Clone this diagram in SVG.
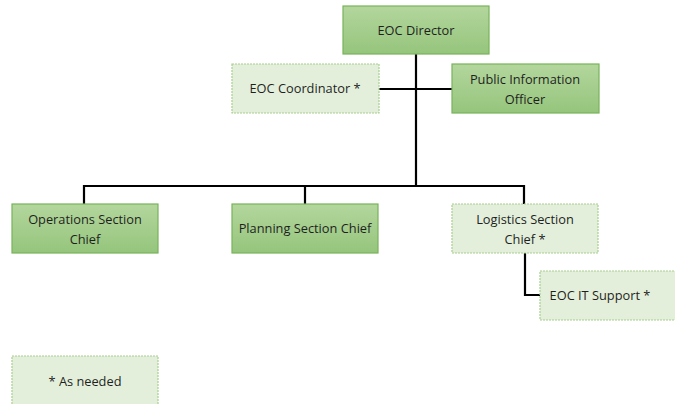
<svg xmlns="http://www.w3.org/2000/svg" width="675" height="404" viewBox="0 0 675 404">
<defs>
<linearGradient id="g" x1="0" y1="0" x2="0" y2="1">
<stop offset="0" stop-color="#b3d69d"/>
<stop offset="1" stop-color="#95c57c"/>
</linearGradient>
<style>
.dark{fill:url(#g);stroke:#78b35a;stroke-width:1.2}
.light{fill:#e3efda;stroke:#a8d08f;stroke-width:1.2;stroke-dasharray:2 1}
text{font-family:"Open Sans","Liberation Sans",sans-serif;font-size:12.8px;fill:#1f1f1f;text-anchor:middle}
.c{fill:none;stroke:#000;stroke-width:2.2}
</style>
</defs>
<rect width="675" height="404" fill="#fff"/>
<g id="connectors">
<path class="c" d="M416,54V186M379,89H452M84,204V186H524V204M305,186V204M525,253V295H540"/>
</g>
<g id="director"><rect class="dark" x="343" y="6" width="146" height="48"/><text x="416" y="35">EOC Director</text></g>
<g id="coordinator"><rect class="light" x="232" y="64" width="147" height="49"/><text x="305" y="93">EOC Coordinator *</text></g>
<g id="pio"><rect class="dark" x="452" y="64" width="147" height="49"/><text x="525" y="84">Public Information</text><text x="525" y="104">Officer</text></g>
<g id="operations"><rect class="dark" x="12" y="204" width="146" height="49"/><text x="85" y="224">Operations Section</text><text x="85" y="244">Chief</text></g>
<g id="planning"><rect class="dark" x="232" y="204" width="146" height="49"/><text x="305" y="233">Planning Section Chief</text></g>
<g id="logistics"><rect class="light" x="452" y="204" width="146" height="49"/><text x="525" y="224">Logistics Section</text><text x="525" y="244">Chief *</text></g>
<g id="itsupport"><rect class="light" x="540" y="271" width="140" height="49"/><text x="600" y="300">EOC IT Support *</text></g>
<g id="legend"><rect class="light" x="12" y="356" width="146" height="52"/><text x="85" y="386">* As needed</text></g>
</svg>
